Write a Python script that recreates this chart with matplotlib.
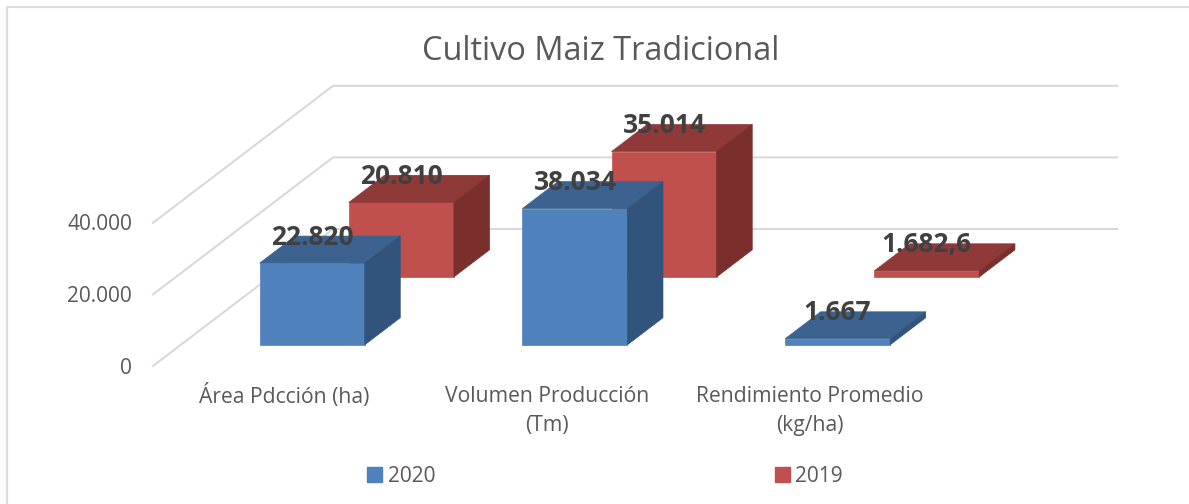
import matplotlib.pyplot as plt
from matplotlib.patches import Patch, Polygon

plt.rcParams["font.family"] = ["Open Sans", "DejaVu Sans"]

categories = ["Área Pdcción (ha)", "Volumen Producción\n(Tm)", "Rendimiento Promedio\n(kg/ha)"]
values_2020 = [22820, 38034, 1667]
values_2019 = [20810, 35014, 1682.6]
labels_2020 = ["22.820", "38.034", "1.667"]
labels_2019 = ["20.810", "35.014", "1.682,6"]
y_ticks = [0, 20000, 40000]
y_tick_labels = ["0", "20.000", "40.000"]

# pixel layout of the fake 3d box
X0, Y0 = 153, 366
DEPTH_X, DEPTH_Y = 180, 137
CAT_W = 262.7
PX_PER_UNIT = 71.6 / 20000
BAR_W = 0.4

BLUE = ("#4F81BD", "#3C6290", "#32537C")
RED = ("#C0504D", "#8F3A38", "#7B2F2D")
GRID = "#D9D9D9"
TEXT = "#595959"


def project(cat, value, depth):
    x = X0 + cat * CAT_W + depth * DEPTH_X
    y = Y0 - value * PX_PER_UNIT - depth * DEPTH_Y
    return x, y


def draw_bar(ax, center, value, d0, d1, colors, label):
    left, right = center - BAR_W / 2, center + BAR_W / 2
    front = [project(left, 0, d0), project(right, 0, d0), project(right, value, d0), project(left, value, d0)]
    top = [project(left, value, d0), project(right, value, d0), project(right, value, d1), project(left, value, d1)]
    side = [project(right, 0, d0), project(right, 0, d1), project(right, value, d1), project(right, value, d0)]
    for pts, col in zip((front, top, side), colors):
        ax.add_patch(Polygon(pts, closed=True, facecolor=col, edgecolor=col, linewidth=0.5, zorder=3))
    x, y = project(center, value, d0)
    ax.text(x, y - 26, label, ha="center", va="center", fontsize=19, fontweight="bold", color="#404040", zorder=5)


fig = plt.figure(figsize=(11.89, 5.04), dpi=100)
ax = fig.add_axes([0, 0, 1, 1])
ax.set_xlim(0, 1189)
ax.set_ylim(504, 0)
ax.axis("off")

# chart frame, only left and top are visible in the crop
ax.plot([7, 7, 1189], [504, 7, 7], color="#DDDDDD", linewidth=1.6, zorder=1)

for tick, lab in zip(y_ticks, y_tick_labels):
    xa, ya = project(0, tick, 0)
    xb, yb = project(0, tick, 1)
    xc, yc = project(len(categories) - 0.015, tick, 1)
    ax.plot([xa, xb, xc], [ya, yb, yc], color=GRID, linewidth=1.5, solid_joinstyle="miter", zorder=1)
    ax.text(132, ya + 2, lab, ha="right", va="center", fontsize=15, color=TEXT)

for i in range(len(categories)):
    draw_bar(ax, i + 0.5, values_2019[i], 0.65, 0.848, RED, labels_2019[i])
for i in range(len(categories)):
    draw_bar(ax, i + 0.5, values_2020[i], 0.155, 0.352, BLUE, labels_2020[i])
    x, _ = project(i + 0.5, 0, 0)
    lines = categories[i].split("\n")
    ax.text(x, 396, lines[0], ha="center", va="center", fontsize=15.2, color=TEXT)
    if len(lines) > 1:
        ax.text(x, 425, lines[1], ha="center", va="center", fontsize=15.2, color=TEXT)

ax.text(601, 51, "Cultivo Maiz Tradicional", ha="center", va="center", fontsize=23.4, color=TEXT)

handles = [Patch(color=BLUE[0], label="2020"), Patch(color=RED[0], label="2019")]
ax.legend(handles=handles, loc="center", bbox_to_anchor=(605 / 1189, 1 - 476 / 504), ncol=2, frameon=False,
          fontsize=15, labelcolor=TEXT, handlelength=0.72, handleheight=0.72, handletextpad=0.25,
          columnspacing=16.3, borderpad=0, borderaxespad=0)

fig.savefig("out.png", dpi=100)
plt.close(fig)
